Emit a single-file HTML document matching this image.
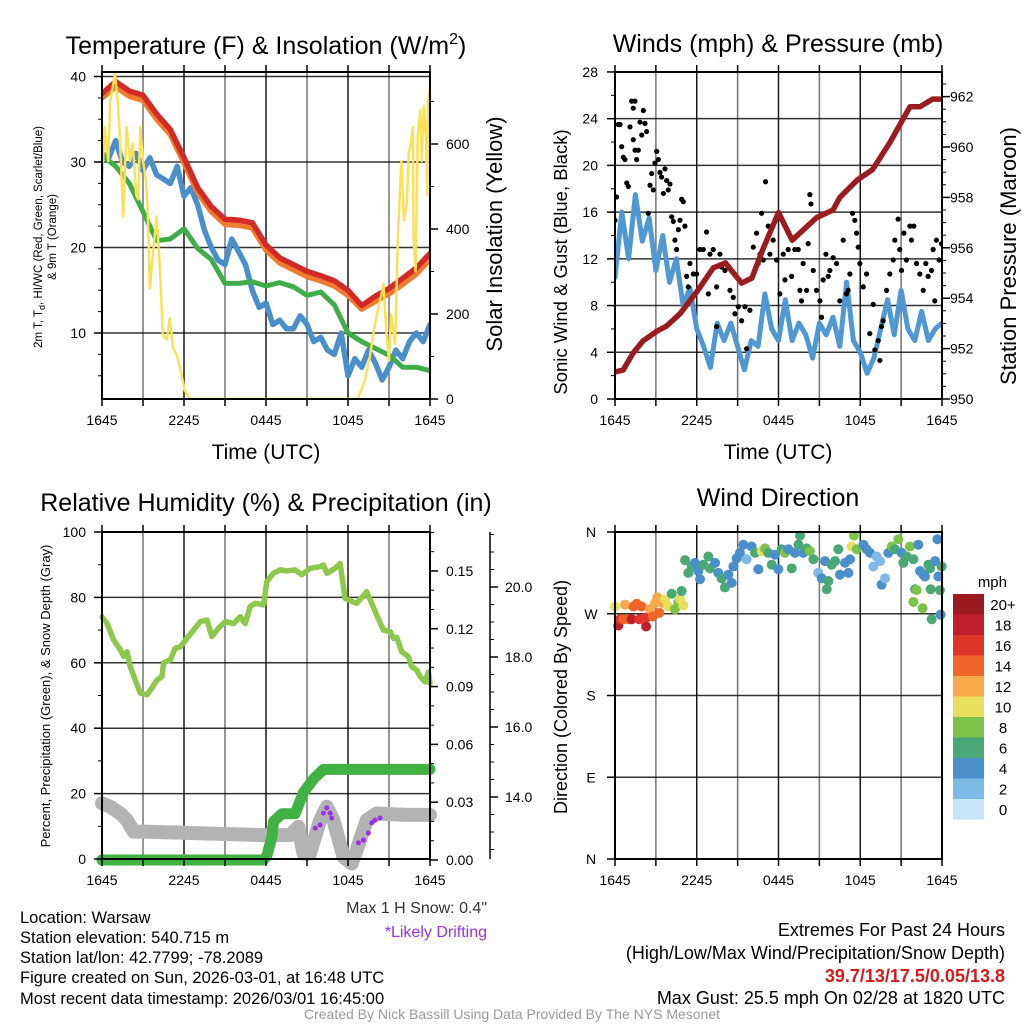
<!DOCTYPE html>
<html><head><meta charset="utf-8"><style>
html,body{margin:0;padding:0;background:#fff;}
svg{display:block;font-family:"Liberation Sans",sans-serif;}
</style></head><body>
<svg id="c" width="1024" height="1024" viewBox="0 0 1024 1024" xmlns="http://www.w3.org/2000/svg">
<rect x="0" y="0" width="1024" height="1024" fill="#fff"/>
<g id="g1"></g>
<g id="g2"></g>
<g id="g3"></g>
<g id="g4"></g>
<text x="266" y="54" font-size="25" text-anchor="middle">Temperature (F) &amp; Insolation (W/m<tspan dy="-10" font-size="16">2</tspan><tspan dy="10">)</tspan></text>
<text x="778" y="52" font-size="25" text-anchor="middle">Winds (mph) &amp; Pressure (mb)</text>
<text x="266" y="511" font-size="25" text-anchor="middle">Relative Humidity (%) &amp; Precipitation (in)</text>
<text x="778" y="506" font-size="25" text-anchor="middle">Wind Direction</text>
<text x="266" y="459" font-size="21" text-anchor="middle">Time (UTC)</text>
<text x="778" y="459" font-size="21" text-anchor="middle">Time (UTC)</text>
<text transform="translate(42,237) rotate(-90)" font-size="11.5" text-anchor="middle">2m T, T<tspan dy="3" font-size="9">d</tspan><tspan dy="-3">, HI/WC (Red, Green, Scarlet/Blue)</tspan></text>
<text transform="translate(56,237) rotate(-90)" font-size="11.5" text-anchor="middle">&amp; 9m T (Orange)</text>
<text transform="translate(502,234) rotate(-90)" font-size="22" text-anchor="middle">Solar Insolation (Yellow)</text>
<text transform="translate(567,262) rotate(-90)" font-size="18.5" text-anchor="middle">Sonic Wind &amp; Gust (Blue, Black)</text>
<text transform="translate(1016,256) rotate(-90)" font-size="22" text-anchor="middle">Station Pressure (Maroon)</text>
<text transform="translate(50,696) rotate(-90)" font-size="13" text-anchor="middle">Percent, Precipitation (Green), &amp; Snow Depth (Gray)</text>
<text transform="translate(567,697) rotate(-90)" font-size="18" text-anchor="middle">Direction (Colored By Speed)</text>
<text x="487" y="913" font-size="16" text-anchor="end" fill="#333">Max 1 H Snow: 0.4"</text>
<text x="487" y="937" font-size="16" text-anchor="end" fill="#9b30e8">*Likely Drifting</text>
<g font-size="16.5">
<text x="20" y="923">Location: Warsaw</text>
<text x="20" y="943">Station elevation: 540.715 m</text>
<text x="20" y="963">Station lat/lon: 42.7799; -78.2089</text>
<text x="20" y="983">Figure created on Sun, 2026-03-01, at 16:48 UTC</text>
<text x="20" y="1004">Most recent data timestamp: 2026/03/01 16:45:00</text>
</g>
<g font-size="18" text-anchor="end">
<text x="1005" y="936">Extremes For Past 24 Hours</text>
<text x="1005" y="959">(High/Low/Max Wind/Precipitation/Snow Depth)</text>
<text x="1005" y="982" fill="#d7191c" font-weight="bold">39.7/13/17.5/0.05/13.8</text>
<text x="1005" y="1004">Max Gust: 25.5 mph On 02/28 at 1820 UTC</text>
</g>
<text x="512" y="1019" font-size="14" fill="#999" text-anchor="middle">Created By Nick Bassill Using Data Provided By The NYS Mesonet</text>
<text x="1007" y="587" font-size="15" text-anchor="end">mph</text>
</svg>
<script>
// ---------- data ----------
const hourT = [0,1,2,3,4,5,6,7,8,9,10,11,12,13,14,15,16,17,18,19,20,21,22,23,24];
const tempF = [38.0,39.4,38.3,37.8,35.6,33.8,30.5,27.0,24.8,23.3,23.2,22.9,20.3,18.8,18.0,17.2,16.7,16.1,15.0,13.2,14.3,15.2,16.4,17.6,19.3];
const temp9mF = [37.5,38.8,37.7,37.2,35.0,33.2,29.9,26.4,24.2,22.7,22.6,22.3,19.7,18.2,17.4,16.6,16.1,15.5,14.4,12.8,13.7,14.6,15.7,16.9,18.6];
const dewF = [30.8,29.5,27.5,24.2,20.8,21.0,22.2,19.9,18.6,15.8,15.8,16.0,15.5,15.9,15.4,14.4,14.8,13.3,10.0,9.0,8.2,7.4,6.0,6.0,5.6];
const halfT = [0,0.5,1,1.5,2,2.5,3,3.5,4,4.5,5,5.5,6,6.5,7,7.5,8,8.5,9,9.5,10,10.5,11,11.5,12,12.5,13,13.5,14,14.5,15,15.5,16,16.5,17,17.5,18,18.5,19,19.5,20,20.5,21,21.5,22,22.5,23,23.5,24];
const windChillF = [31,30.5,32.5,30,29.5,31,29,30.5,28.5,28,27.5,29.5,26,27,25,22,20,18.5,18,21,19.5,18,15,13,13.5,11,11.5,10.5,10.5,12,11,9,9.5,8,7.5,10,5,7,6,8,6.5,4.5,6,8,7,9,10,9,11];
const solarT = [0,0.2,0.45,0.6,0.95,1.15,1.3,1.55,1.8,2.05,2.25,2.5,2.65,2.8,3.0,3.2,3.35,3.5,3.75,4.0,4.25,4.45,4.75,4.95,5.2,5.5,5.8,6.05,6.45,18.7,19.2,19.6,20.0,20.4,20.6,20.8,21.0,21.15,21.45,21.65,21.9,22.1,22.3,22.45,22.6,22.75,22.8,22.95,23.1,23.3,23.4,23.55,23.7,23.8,23.85,24];
const solarW = [508,640,560,700,765,700,620,430,640,560,600,480,470,640,560,520,440,260,350,430,300,150,140,190,120,100,60,20,0,0,40,100,180,240,270,160,90,200,130,380,560,420,460,580,600,640,380,300,620,680,560,690,620,480,700,730];
const windMph = [10.4,16,12,17.5,13.5,15.5,11,14,10,12,8,9.5,6,4.5,2.7,6.5,5,6.5,4.5,2.5,5,4.5,9,6,5,8.5,5,6.5,5.5,3.5,6.5,5.5,7,4.5,10,5,4,2.2,3.5,6,8.5,5.5,9.3,6,5,7.5,5,6,6.5];
const gustT = [0,0.12,0.24,0.37,0.49,0.61,0.73,0.86,0.98,1.1,1.22,1.34,1.47,1.34,1.47,1.59,1.71,1.83,1.96,2.08,2.2,2.32,2.44,2.57,2.69,2.81,2.93,3.06,3.18,3.3,3.42,3.55,3.67,3.79,3.91,4.03,4.16,4.28,4.4,4.52,4.65,4.77,4.89,5.01,5.13,5.26,5.38,5.5,5.75,5.99,6.23,6.48,6.72,6.85,6.97,7.21,7.46,7.46,7.7,7.82,8.07,8.44,8.68,8.8,9.05,9.29,9.54,9.66,9.9,10.15,10.39,10.51,10.64,10.76,10.88,11.05,11.25,11.37,11.61,11.86,12.1,12.35,12.47,12.71,12.96,13.2,13.45,13.57,13.69,13.81,14.06,14.18,14.3,14.38,14.55,14.79,15.04,15.16,15.28,15.48,15.65,15.77,16.01,16.26,16.5,16.75,16.99,17.11,17.24,17.43,17.6,17.73,17.85,17.97,18.22,18.46,18.7,18.95,19.07,19.32,19.44,19.56,19.68,19.93,20.17,20.42,20.54,20.78,20.9,21.03,21.2,21.39,21.64,21.76,21.93,22.13,22.37,22.62,22.81,22.98,23.23,23.35,23.47,23.59,23.79,23.96];
const gustMph = [15.3,17.3,23.5,23.5,21.6,20.7,20.5,18.5,18.2,23.3,25.5,24.9,25.5,22.2,21.3,20.5,21.3,23.7,22.6,24.7,23.6,22.9,15.9,18.3,19.3,17.9,20.2,21.2,20.5,19.4,19.0,17.6,19.7,18.7,17.9,18.4,15.6,15.2,13.6,12.8,14.5,15.3,17.1,16.9,14.8,10.5,9.6,11.6,10.7,10.7,12.8,12.8,14.3,9.0,12.4,12.8,6.2,9.6,12.4,11.3,11.0,9.3,8.7,7.3,7.9,6.7,7.9,4.3,7.6,13.0,14.2,11.6,12.4,15.9,11.9,18.6,14.8,12.4,13.6,11.9,9.0,12.4,10.2,12.8,10.5,12.8,12.8,9.3,8.4,11.6,9.3,13.3,17.5,16.7,11.0,9.3,8.4,7.0,10.2,12.4,10.5,11.0,12.1,11.6,8.4,13.6,9.0,9.3,10.7,15.9,15.3,14.2,13.0,11.6,9.6,10.7,5.6,8.1,4.2,5.0,3.3,6.2,6.7,9.3,10.7,11.9,13.6,15.4,12.8,11.0,14.2,11.9,14.8,13.6,14.8,11.6,10.7,9.3,11.6,10.5,11.0,12.8,8.4,13.6,11.9,13.3];
const presT = [0,0.6,1.3,2.05,3.1,3.8,4.8,6.2,7.2,8.1,8.7,9.3,10.05,10.9,12.0,13.0,13.8,14.8,16.0,16.5,17.8,18.9,20.2,21.65,22.4,23.3,24];
const presMb = [951.07,951.15,951.8,952.3,952.7,952.9,953.4,954.4,955.2,955.4,955.0,954.6,954.8,956.0,957.4,956.3,956.7,957.2,957.5,958.0,958.7,959.1,960.2,961.6,961.6,961.9,961.9];
const rhT = [0,0.37,0.85,1.34,1.58,1.83,2.07,2.44,2.8,3.29,3.65,4.02,4.39,4.51,5.0,5.36,5.73,6.21,6.7,7.19,7.68,8.04,8.53,9.02,9.62,10.11,10.48,10.84,11.21,11.82,12.06,12.55,13.04,13.52,14.13,14.62,15.23,15.96,16.2,16.45,17.06,17.42,17.79,18.64,19.37,20.1,20.59,21.08,21.32,21.56,21.93,22.42,22.66,23.03,23.27,23.64,23.88,24];
const rhPct = [74,72,67,64,62,63.4,58.8,54.7,50.7,50.2,52.3,54.7,55.8,60,60.9,64.5,64.9,67.5,70,72.6,73.1,68,70.6,72.6,72,74.1,72,77.2,78.2,77.7,84.8,87.4,88.4,88.1,88.4,86.9,88.9,89.4,89.9,87.4,88.9,90.4,79.7,78.2,81.7,74.6,70,69.5,67.5,67.8,63.4,61.9,58.8,57.8,55.8,54.2,57.2,53.7];
const precipT = [0,11.82,12.06,12.43,12.55,13.16,14.13,14.74,15.47,16.2,24];
const precipIn = [0,0,0.002,0.012,0.02,0.024,0.024,0.035,0.042,0.047,0.047];
const snowT = [0,0.61,1.34,1.83,2.31,3.05,11.82,13.77,14.38,14.74,15.23,15.96,16.45,16.93,17.67,18.27,18.64,19.37,20.1,22.3,24];
const snowIn = [13.82,13.72,13.53,13.34,13.01,13.01,12.91,12.91,13.15,12.39,12.39,13.34,13.72,13.34,12.29,12.1,12.49,13.34,13.53,13.49,13.49];
const driftT = [15.6,15.96,16.2,16.45,16.69,16.81,18.76,19.13,19.49,19.74,19.98,20.35];
const driftIn = [13.11,13.2,13.54,13.69,13.54,13.4,12.69,12.77,12.97,13.26,13.34,13.4];
const dirT = [0,0.24,0.37,0.61,0.73,0.98,1.22,1.35,1.59,1.79,1.96,2.28,2.32,2.57,2.76,2.94,3.11,3.25,3.43,3.67,3.91,4.16,4.4,4.65,4.77,4.89,5.02,5.14,5.38,5.63,5.87,6.12,6.24,6.48,6.85,6.97,7.34,7.58,7.83,8.07,8.32,8.56,8.69,8.93,9.17,9.42,9.66,10.03,10.28,10.52,10.76,11.01,11.25,11.5,11.74,11.99,12.23,12.48,12.72,12.97,13.21,13.46,13.58,13.82,14.07,14.31,14.56,14.92,15.17,15.41,15.54,15.66,15.9,16.15,16.39,16.51,16.88,17.13,17.25,17.37,17.54,17.74,18.23,18.47,18.72,18.96,19.2,19.45,19.57,19.82,20.06,20.31,20.55,20.8,21.04,21.16,21.41,21.65,21.9,22.02,22.14,22.26,22.39,22.58,22.63,22.75,23.0,23.12,23.17,23.24,23.49,23.66,23.73,23.85,23.9,23.98,21.9];
const dirDeg = [278,257,264,264,280,264,264,278,281,264,278,256,266,275,267,282,288,271,282,286,278,292,275,283,286,295,279,329,315,322,326,317,308,324,333,320,326,315,309,299,313,304,322,331,337,346,330,344,337,319,339,342,337,324,335,319,341,337,341,320,337,346,356,337,342,339,330,315,309,328,297,306,324,328,341,313,326,315,330,344,356,341,346,341,337,322,333,328,302,309,337,344,341,352,337,326,333,344,330,297,296,346,317,276,313,311,324,320,297,264,328,352,311,296,269,322,283];
const dirMph = [10,18,16,14,12,14,18,14,14,16,14,18,16,12,14,12,12,14,12,10,10,6,8,8,10,6,10,6,6,6,4,4,4,6,6,6,4,4,6,6,4,4,4,4,4,4,2,4,6,4,10,8,6,6,4,4,6,8,4,6,4,6,6,4,6,8,6,2,4,4,6,6,6,6,6,4,4,4,4,10,8,8,4,4,4,2,2,2,4,2,4,8,6,8,4,6,6,8,6,6,8,4,4,8,4,4,6,6,6,6,4,4,4,6,4,6,8];
const speedColors = ['#c6e6f8','#7fbae6','#4a8fc9','#49a875','#7dc34b','#e7e05c','#f8aa4b','#f26529','#e0352b','#c01f2a','#9b1a1f'];
const speedLabels = ['0','2','4','6','8','10','12','14','16','18','20+'];
const xTickLabels = ['1645','2245','0445','1045','1645'];
const tempTicks = [10,20,30,40];
const solarTicks = [0,200,400,600];
const windTicks = [0,4,8,12,16,20,24,28];
const presTicks = [950,952,954,956,958,960,962];
const pctTicks = [0,20,40,60,80,100];
const precipTicks = [0.00,0.03,0.06,0.09,0.12,0.15];
const snowTicks = [14,16,18,20];
const dirTicks = [0,90,180,270,360];
const dirLabels = ['N','E','S','W','N'];

// ---------- helpers ----------
const NS='http://www.w3.org/2000/svg';
function mk(tag,parent,attrs){const e=document.createElementNS(NS,tag);for(const k in attrs)e.setAttribute(k,attrs[k]);parent.appendChild(e);return e;}
function xs(P){return t=>P.x0+t/24*(P.x1-P.x0);}
function pathFrom(T,V,fx,fy){let d='';for(let i=0;i<T.length;i++){d+=(i?'L':'M')+fx(T[i]).toFixed(1)+','+fy(V[i]).toFixed(1);}return d;}
function grid(g,P,fy,ticks){
  for(let h=3;h<24;h+=3){const x=xs(P)(h);const l=mk('line',g,{x1:x,x2:x,y1:P.y0,y2:P.y1,stroke:'#000','stroke-width':1.5,'stroke-opacity':h%6?0.55:0.9});
    
    }
  ticks.forEach(v=>{const y=fy(v);if(y<=P.y0+1||y>=P.y1-1)return;const l=mk('line',g,{x1:P.x0,x2:P.x1,y1:y,y2:y,stroke:'#000','stroke-width':1.5,'stroke-opacity':0.8});
    
    });
}
function frame(g,P){const r=mk('rect',g,{x:P.x0,y:P.y0,width:P.x1-P.x0,height:P.y1-P.y0,fill:'none',stroke:'#000','stroke-width':2});
  
  }
function xAxis(g,P){const f=xs(P);
  for(let h=0;h<=24;h+=3){mk('line',g,{x1:f(h),x2:f(h),y1:P.y1,y2:P.y1+7,stroke:'#000','stroke-width':1.5});mk('line',g,{x1:f(h),x2:f(h),y1:P.y0,y2:P.y0-7,stroke:'#000','stroke-width':1.5});}
  xTickLabels.forEach((s,i)=>{const t=mk('text',g,{x:f(i*6),y:P.y1+26,'font-size':14,'text-anchor':'middle'});t.textContent=s;
    
    });}
function yAxis(g,xAx,dir,fy,ticks,minorStep,fmt,lo,hi,labelX,anchor){
  ticks.forEach(v=>{const y=fy(v);mk('line',g,{x1:xAx,x2:xAx+dir*8,y1:y,y2:y,stroke:'#000','stroke-width':1.5});
    const t=mk('text',g,{x:labelX,y:y+5,'font-size':14,'text-anchor':anchor});t.textContent=fmt(v);
    
    });
  if(minorStep){for(let v=lo;v<=hi+1e-9;v+=minorStep){const y=fy(v);mk('line',g,{x1:xAx,x2:xAx+dir*4,y1:y,y2:y,stroke:'#000','stroke-width':1});}}
}
function line(g,d,color,w,name){const p=mk('path',g,{d:d,fill:'none',stroke:color,'stroke-width':w,'stroke-linejoin':'round','stroke-linecap':'round'});
  
  return p;}

// ---------- Panel 1 ----------
(function(){
const g=document.getElementById('g1');const P={x0:102,x1:430,y0:72,y1:399};
const fx=xs(P);const fy=v=>76.5+(40-v)*8.55;const fs=v=>399-v*0.425;
grid(g,P,fy,tempTicks);
const clip=mk('clipPath',g,{id:'cp1'});mk('rect',clip,{x:P.x0,y:P.y0,width:P.x1-P.x0,height:P.y1-P.y0});
const m=mk('g',g,{'clip-path':'url(#cp1)'});
line(m,pathFrom(halfT,windChillF,fx,fy),'#4a8fc9',5.5,'wind-chill-line');
line(m,pathFrom(hourT,dewF,fx,fy),'#3fae49',5,'dewpoint-line');
line(m,pathFrom(hourT,temp9mF,fx,fy),'#f07c30',5.5,'temp-9m-line');
line(m,pathFrom(hourT,tempF,fx,fy),'#d42a25',5.5,'temp-2m-line');
line(m,pathFrom(solarT,solarW,fx,fs),'#fbe15a',2.5,'solar-line');
frame(g,P);xAxis(g,P);
yAxis(g,P.x0,-1,fy,tempTicks,2.5,v=>String(v),5,40,86,'end');
yAxis(g,P.x1,1,fs,solarTicks,100,v=>String(v),0,700,446,'start');
})();

// ---------- Panel 2 ----------
(function(){
const g=document.getElementById('g2');const P={x0:615,x1:942,y0:72,y1:399};
const fx=xs(P);const fy=v=>399-v*11.68;const fp=p=>399-(p-950)*25.2;
grid(g,P,fy,windTicks);
const clip=mk('clipPath',g,{id:'cp2'});mk('rect',clip,{x:P.x0,y:P.y0,width:P.x1-P.x0,height:P.y1-P.y0});
const m=mk('g',g,{'clip-path':'url(#cp2)'});
line(m,pathFrom(halfT,windMph,fx,fy),'#4f98d3',5,'sustained-wind-line');
gustT.forEach((t,i)=>{const c=mk('circle',m,{cx:fx(t),cy:fy(gustMph[i]),r:2.6,fill:'#000'});
  
  });
line(m,pathFrom(presT,presMb,fx,fp),'#9b1c1f',5.5,'pressure-line');
frame(g,P);xAxis(g,P);
yAxis(g,P.x0,-1,fy,windTicks,2,v=>String(v),0,28,598,'end');
yAxis(g,P.x1,1,fp,presTicks,0.5,v=>String(v),950,962.5,950,'start');
})();

// ---------- Panel 3 ----------
(function(){
const g=document.getElementById('g3');const P={x0:102,x1:430,y0:532,y1:859};
const fx=xs(P);const fy=v=>859-v*3.27;const fr=v=>860-v*1927;const fsn=s=>797-(s-14)*35;
grid(g,P,fy,pctTicks);
line(g,pathFrom(snowT,snowIn,fx,fsn),'#b3b3b3',14,'snow-depth-line');
driftT.forEach((t,i)=>{const c=mk('circle',g,{cx:fx(t),cy:fsn(driftIn[i]),r:2.5,fill:'#9b30e8'});
  
  });
line(g,pathFrom(precipT,precipIn,fx,fr),'#41b144',11,'precipitation-line');
line(g,pathFrom(rhT,rhPct,fx,fy),'#8cc84b',5.5,'relative-humidity-line');
frame(g,P);xAxis(g,P);
yAxis(g,P.x0,-1,fy,pctTicks,10,v=>String(v),0,100,86,'end');
yAxis(g,P.x1,1,fr,precipTicks,0.01,v=>v.toFixed(2),0,0.17,446,'start');
const ax=mk('line',g,{x1:490,x2:490,y1:532,y2:859,stroke:'#000','stroke-width':1.5});


yAxis(g,490,1,fsn,snowTicks,0.5,v=>v.toFixed(1),12.5,21.5,505,'start');
})();

// ---------- Panel 4 ----------
(function(){
const g=document.getElementById('g4');const P={x0:615,x1:942,y0:532,y1:859};
const fx=xs(P);const fy=d=>859-d/360*327;
grid(g,P,fy,dirTicks);
dirT.forEach((t,i)=>{const k=Math.max(0,Math.min(10,Math.floor(dirMph[i]/2)));
  const c=mk('circle',g,{cx:fx(t),cy:fy(dirDeg[i]),r:5,fill:speedColors[k]});
  
  });
frame(g,P);xAxis(g,P);
dirTicks.forEach((d,i)=>{const y=fy(d);mk('line',g,{x1:P.x0,x2:P.x0-8,y1:y,y2:y,stroke:'#000','stroke-width':1.5});
  const t=mk('text',g,{x:591,y:y+5,'font-size':14,'text-anchor':'middle'});t.textContent=dirLabels[i];
  
  });
const cb=mk('g',document.getElementById('c'),{});


speedColors.forEach((col,i)=>{const y=594+(10-i)*20.5;
  const r=mk('rect',cb,{x:953,y:y,width:31,height:20.5,fill:col});
  
  
  const t=mk('text',cb,{x:1003,y:y+16,'font-size':15,'text-anchor':'middle'});t.textContent=speedLabels[i];
  
  });
})();
</script>
</body></html>
